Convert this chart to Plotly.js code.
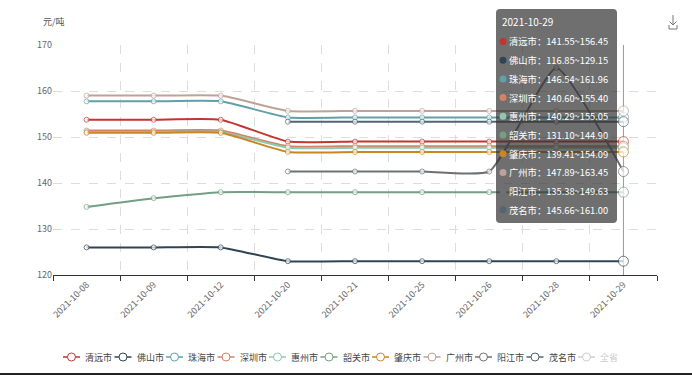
<!DOCTYPE html>
<html><head><meta charset="utf-8">
<script src="https://cdn.plot.ly/plotly-3.0.1.min.js"></script>
<style>html,body{margin:0;padding:0;background:#fff}#chart{width:692px;height:375px}</style>
</head><body><div id="chart"></div>
<script>
// ---- data ----
const dates = ['2021-10-08','2021-10-09','2021-10-12','2021-10-20','2021-10-21','2021-10-25','2021-10-26','2021-10-28','2021-10-29'];
const cities = ['清远市','佛山市','珠海市','深圳市','惠州市','韶关市','肇庆市','广州市','阳江市','茂名市'];
const qingyuan  = [153.75,153.75,153.75,149,149,149,149,149,149];
const foshan    = [126,126,126,123,123,123,123,123,123];
const zhuhai    = [157.75,157.75,157.75,154.25,154.25,154.25,154.25,154.25,154.25];
const shenzhen  = [151.4,151.4,151.4,148,148,148,148,148,148];
const huizhou   = [151.1,151.1,151.1,147.67,147.67,147.67,147.67,147.67,147.67];
const shaoguan  = [134.8,136.7,138,138,138,138,138,138,138];
const zhaoqing  = [150.9,150.9,150.9,146.75,146.75,146.75,146.75,146.75,146.75];
const guangzhou = [159,159,159,155.67,155.67,155.67,155.67,155.67,155.67];
const yangjiang = [null,null,null,142.5,142.5,142.5,142.5,165,142.5];
const maoming   = [null,null,null,153.33,153.33,153.33,153.33,153.33,153.33];
const seriesVals = [qingyuan,foshan,zhuhai,shenzhen,huizhou,shaoguan,zhaoqing,guangzhou,yangjiang,maoming];
const tipDate = '2021-10-29';
const tipLow  = [141.55,116.85,146.54,140.60,140.29,131.10,139.41,147.89,135.38,145.66];
const tipHigh = [156.45,129.15,161.96,155.40,155.05,144.90,154.09,163.45,149.63,161.00];
const legendNames = cities.concat(['全省']);
const yTitle = '元/吨';

// ---- style ----
const colors = ['#c23531','#2f4554','#61a0a8','#d48265','#91c7ae','#749f83','#ca8622','#bda29a','#6e7074','#546570','#c4ccd3'];
const FONT = '"Noto Sans CJK SC", "Noto Sans", sans-serif';
const L = 53, R = 657, T = 45, B = 275;
const px = x => (x - L) / (R - L);
const py = y => (B - y) / (B - T);

const lastIdx = dates.length - 1;
const traces = seriesVals.map((vals, i) => ({
  type: 'scatter', mode: 'lines+markers', name: cities[i],
  x: dates, y: vals, connectgaps: false,
  line: {color: colors[i], width: 2, shape: 'spline', smoothing: 0.45},
  marker: {
    size: dates.map((d, j) => j === lastIdx ? 10 : 5),
    color: '#fff',
    line: {color: colors[i], width: 1}
  },
  hoverinfo: 'skip'
}));

const shapes = [];
const annotations = [];

// axis pointer
shapes.push({type: 'line', xref: 'x', yref: 'paper', x0: tipDate, x1: tipDate, y0: 0, y1: 1,
  line: {color: '#999', width: 1}, layer: 'below'});

// y axis title
annotations.push({xref: 'paper', yref: 'paper', x: px(41), y: py(22), xanchor: 'left', yanchor: 'middle',
  text: yTitle, showarrow: false, font: {family: FONT, size: 9, color: '#555'}});

// tooltip box (rounded)
(function () {
  const x0 = 496, x1 = 617, y0 = 9, y1 = 223, r = 4;
  const P = (x, y) => px(x) + ',' + py(y);
  const path = 'M' + P(x0 + r, y0) + ' L' + P(x1 - r, y0) + ' Q' + P(x1, y0) + ' ' + P(x1, y0 + r) +
    ' L' + P(x1, y1 - r) + ' Q' + P(x1, y1) + ' ' + P(x1 - r, y1) +
    ' L' + P(x0 + r, y1) + ' Q' + P(x0, y1) + ' ' + P(x0, y1 - r) +
    ' L' + P(x0, y0 + r) + ' Q' + P(x0, y0) + ' ' + P(x0 + r, y0) + ' Z';
  shapes.push({type: 'path', xref: 'paper', yref: 'paper', path: path,
    fillcolor: 'rgba(50,50,50,0.7)', line: {width: 0}, layer: 'above'});
  annotations.push({xref: 'paper', yref: 'paper', x: px(500), y: py(22), xanchor: 'left', yanchor: 'middle',
    text: tipDate, showarrow: false, font: {family: FONT, size: 10, color: '#fff'}});
  cities.forEach((c, i) => {
    const yc = 41.5 + i * 18.7;
    shapes.push({type: 'circle', xref: 'paper', yref: 'paper',
      x0: px(499.5), x1: px(506.5), y0: py(yc + 3.5), y1: py(yc - 3.5),
      fillcolor: colors[i], line: {width: 0}, layer: 'above'});
    annotations.push({xref: 'paper', yref: 'paper', x: px(507), y: py(yc), xanchor: 'left', yanchor: 'middle',
      text: c + '：' + tipLow[i].toFixed(2) + '~' + tipHigh[i].toFixed(2), showarrow: false,
      font: {family: FONT, size: 9.3, color: '#fff'}});
  });
})();

// custom legend
legendNames.forEach((n, i) => {
  const x = 63 + 51.5 * i, y = 357;
  const off = i === legendNames.length - 1;
  const col = off ? '#ccc' : colors[i];
  shapes.push({type: 'line', xref: 'paper', yref: 'paper', x0: px(x), x1: px(x + 17), y0: py(y), y1: py(y),
    line: {color: col, width: 1.5}});
  shapes.push({type: 'circle', xref: 'paper', yref: 'paper', x0: px(x + 4.5), x1: px(x + 12.5), y0: py(y + 4), y1: py(y - 4),
    fillcolor: '#fff', line: {color: col, width: 1}});
  annotations.push({xref: 'paper', yref: 'paper', x: px(x + 20), y: py(y), xanchor: 'left', yanchor: 'middle',
    text: n, showarrow: false, font: {family: FONT, size: 9, color: off ? '#ccc' : '#444'}});
});

// download icon
(function () {
  const P = (x, y) => px(x) + ',' + py(y);
  shapes.push({type: 'path', xref: 'paper', yref: 'paper',
    path: 'M' + P(673, 15) + ' L' + P(673, 25) + ' M' + P(669.5, 21.5) + ' L' + P(673, 25) + ' L' + P(676.5, 21.5) +
      ' M' + P(669, 25) + ' L' + P(669, 29) + ' L' + P(677, 29) + ' L' + P(677, 25),
    line: {color: '#777', width: 1}});
})();

// bottom border line
shapes.push({type: 'line', xref: 'paper', yref: 'paper', x0: px(0), x1: px(692), y0: py(374), y1: py(374),
  line: {color: '#222', width: 2}});

const layout = {
  width: 692, height: 375,
  margin: {l: L, r: 692 - R, t: T, b: 375 - B},
  paper_bgcolor: '#fff', plot_bgcolor: '#fff',
  showlegend: false,
  font: {family: FONT, size: 9, color: '#666'},
  xaxis: {
    type: 'category', range: [-0.5, dates.length - 0.5], tickson: 'boundaries',
    ticks: 'outside', ticklen: 5, tickcolor: '#333', tickwidth: 1,
    showline: true, linecolor: '#333', linewidth: 1,
    showgrid: true, gridcolor: '#ddd', griddash: 'dash', gridwidth: 1,
    tickangle: -45, tickfont: {family: FONT, size: 9, color: '#666'},
    fixedrange: true
  },
  yaxis: {
    range: [120, 170], dtick: 10, tick0: 120,
    showgrid: true, gridcolor: '#ddd', griddash: 'dash', gridwidth: 1,
    zeroline: false, showline: false, ticks: '',
    tickfont: {family: FONT, size: 9, color: '#666'},
    fixedrange: true
  },
  shapes: shapes,
  annotations: annotations
};

Plotly.newPlot('chart', traces, layout, {displayModeBar: false, staticPlot: true});
</script>
</body></html>
